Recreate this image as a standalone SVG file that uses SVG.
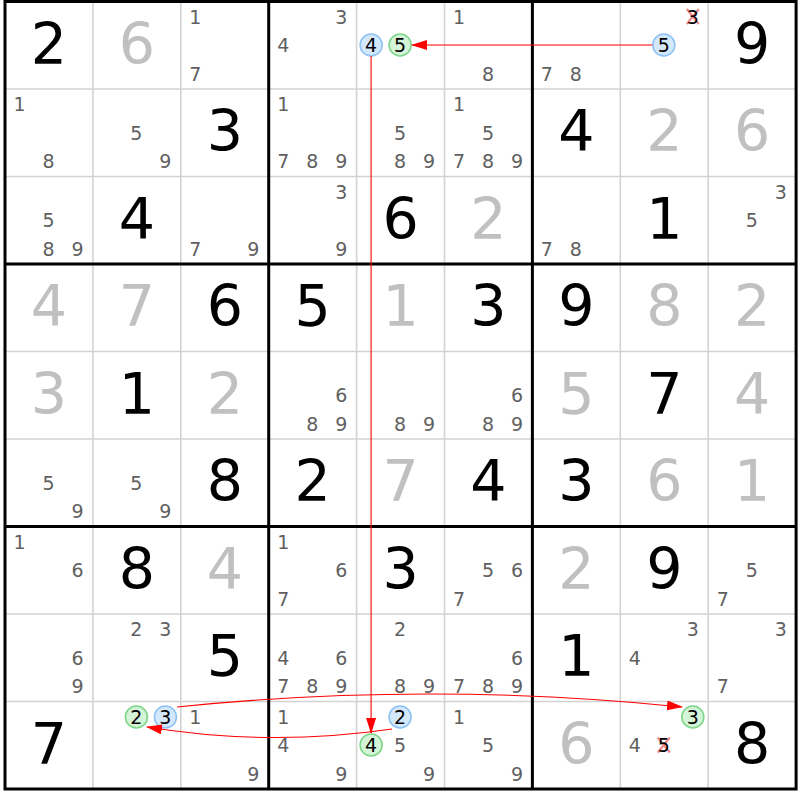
<svg xmlns="http://www.w3.org/2000/svg" width="800" height="800" viewBox="0 0 800 800">
<style>
text{font-family:"DejaVu Sans","Liberation Sans",sans-serif}
.g{font-size:57px;fill:#000;text-anchor:middle}
.s{font-size:57px;fill:#c0c0c0;text-anchor:middle}
.c{font-size:19px;fill:#606060;text-anchor:middle}
.h{font-size:19px;fill:#000;text-anchor:middle}
.cb{fill:#d4e8fc;stroke:#8ec2f5;stroke-width:1.6}
.cg{fill:#d4f4d8;stroke:#7fd58a;stroke-width:1.6}
.x{stroke:#f08a8a;stroke-width:2.2;fill:none}
.thin{stroke:#d3d3d3;stroke-width:1.6}
.thick{stroke:#000;stroke-width:3}
.link{stroke:#ff0000;stroke-width:1.1;fill:none}
</style>
<defs>
<marker id="ah" markerUnits="userSpaceOnUse" markerWidth="16" markerHeight="10" refX="15" refY="5" orient="auto">
<path d="M0,0 L16,5 L0,10 z" fill="#ff0000"/>
</marker>
</defs>
<rect x="0" y="0" width="800" height="800" fill="#fff"/>
<g id="grid">
<g class="thin">
<line x1="92.9" y1="1.5" x2="92.9" y2="789"/><line x1="180.8" y1="1.5" x2="180.8" y2="789"/>
<line x1="356.6" y1="1.5" x2="356.6" y2="789"/><line x1="444.5" y1="1.5" x2="444.5" y2="789"/>
<line x1="620.3" y1="1.5" x2="620.3" y2="789"/><line x1="708.2" y1="1.5" x2="708.2" y2="789"/>
<line x1="5" y1="89" x2="796.1" y2="89"/><line x1="5" y1="176.5" x2="796.1" y2="176.5"/>
<line x1="5" y1="351.5" x2="796.1" y2="351.5"/><line x1="5" y1="439" x2="796.1" y2="439"/>
<line x1="5" y1="614" x2="796.1" y2="614"/><line x1="5" y1="701.5" x2="796.1" y2="701.5"/>
</g>
<g class="thick">
<line x1="268.7" y1="1.5" x2="268.7" y2="789"/><line x1="532.4" y1="1.5" x2="532.4" y2="789"/>
<line x1="5" y1="264" x2="796.1" y2="264"/><line x1="5" y1="526.5" x2="796.1" y2="526.5"/>
<rect x="5" y="1.5" width="791.1" height="787.5" fill="none"/>
</g>
</g>
<g id="r1c1" transform="translate(5,1.5)"><text class="g" x="44" y="62">2</text></g>
<g id="r1c2" transform="translate(92.9,1.5)"><text class="s" x="44" y="62">6</text></g>
<g id="r1c3" transform="translate(180.8,1.5)"><text class="c" x="14.5" y="22">1</text><text class="c" x="14.5" y="79">7</text></g>
<g id="r1c4" transform="translate(268.7,1.5)"><text class="c" x="72.5" y="22">3</text><text class="c" x="14.5" y="50.5">4</text></g>
<g id="r1c5" transform="translate(356.6,1.5)"><circle class="cb" cx="14.5" cy="43.5" r="11"/><text class="h" x="14.5" y="50.5">4</text><circle class="cg" cx="43.5" cy="43.5" r="11"/><text class="h" x="43.5" y="50.5">5</text></g>
<g id="r1c6" transform="translate(444.5,1.5)"><text class="c" x="14.5" y="22">1</text><text class="c" x="43.5" y="79">8</text></g>
<g id="r1c7" transform="translate(532.4,1.5)"><text class="c" x="14.5" y="79">7</text><text class="c" x="43.5" y="79">8</text></g>
<g id="r1c8" transform="translate(620.3,1.5)"><path class="x" d="M66.5,7.5 L78.5,22.5 M78.5,7.5 L66.5,22.5"/><text class="h" x="72.5" y="22">3</text><circle class="cb" cx="43.5" cy="43.5" r="11"/><text class="h" x="43.5" y="50.5">5</text></g>
<g id="r1c9" transform="translate(708.2,1.5)"><text class="g" x="44" y="62">9</text></g>
<g id="r2c1" transform="translate(5,89)"><text class="c" x="14.5" y="22">1</text><text class="c" x="43.5" y="79">8</text></g>
<g id="r2c2" transform="translate(92.9,89)"><text class="c" x="43.5" y="50.5">5</text><text class="c" x="72.5" y="79">9</text></g>
<g id="r2c3" transform="translate(180.8,89)"><text class="g" x="44" y="62">3</text></g>
<g id="r2c4" transform="translate(268.7,89)"><text class="c" x="14.5" y="22">1</text><text class="c" x="14.5" y="79">7</text><text class="c" x="43.5" y="79">8</text><text class="c" x="72.5" y="79">9</text></g>
<g id="r2c5" transform="translate(356.6,89)"><text class="c" x="43.5" y="50.5">5</text><text class="c" x="43.5" y="79">8</text><text class="c" x="72.5" y="79">9</text></g>
<g id="r2c6" transform="translate(444.5,89)"><text class="c" x="14.5" y="22">1</text><text class="c" x="43.5" y="50.5">5</text><text class="c" x="14.5" y="79">7</text><text class="c" x="43.5" y="79">8</text><text class="c" x="72.5" y="79">9</text></g>
<g id="r2c7" transform="translate(532.4,89)"><text class="g" x="44" y="62">4</text></g>
<g id="r2c8" transform="translate(620.3,89)"><text class="s" x="44" y="62">2</text></g>
<g id="r2c9" transform="translate(708.2,89)"><text class="s" x="44" y="62">6</text></g>
<g id="r3c1" transform="translate(5,176.5)"><text class="c" x="43.5" y="50.5">5</text><text class="c" x="43.5" y="79">8</text><text class="c" x="72.5" y="79">9</text></g>
<g id="r3c2" transform="translate(92.9,176.5)"><text class="g" x="44" y="62">4</text></g>
<g id="r3c3" transform="translate(180.8,176.5)"><text class="c" x="14.5" y="79">7</text><text class="c" x="72.5" y="79">9</text></g>
<g id="r3c4" transform="translate(268.7,176.5)"><text class="c" x="72.5" y="22">3</text><text class="c" x="72.5" y="79">9</text></g>
<g id="r3c5" transform="translate(356.6,176.5)"><text class="g" x="44" y="62">6</text></g>
<g id="r3c6" transform="translate(444.5,176.5)"><text class="s" x="44" y="62">2</text></g>
<g id="r3c7" transform="translate(532.4,176.5)"><text class="c" x="14.5" y="79">7</text><text class="c" x="43.5" y="79">8</text></g>
<g id="r3c8" transform="translate(620.3,176.5)"><text class="g" x="44" y="62">1</text></g>
<g id="r3c9" transform="translate(708.2,176.5)"><text class="c" x="72.5" y="22">3</text><text class="c" x="43.5" y="50.5">5</text></g>
<g id="r4c1" transform="translate(5,264)"><text class="s" x="44" y="62">4</text></g>
<g id="r4c2" transform="translate(92.9,264)"><text class="s" x="44" y="62">7</text></g>
<g id="r4c3" transform="translate(180.8,264)"><text class="g" x="44" y="62">6</text></g>
<g id="r4c4" transform="translate(268.7,264)"><text class="g" x="44" y="62">5</text></g>
<g id="r4c5" transform="translate(356.6,264)"><text class="s" x="44" y="62">1</text></g>
<g id="r4c6" transform="translate(444.5,264)"><text class="g" x="44" y="62">3</text></g>
<g id="r4c7" transform="translate(532.4,264)"><text class="g" x="44" y="62">9</text></g>
<g id="r4c8" transform="translate(620.3,264)"><text class="s" x="44" y="62">8</text></g>
<g id="r4c9" transform="translate(708.2,264)"><text class="s" x="44" y="62">2</text></g>
<g id="r5c1" transform="translate(5,351.5)"><text class="s" x="44" y="62">3</text></g>
<g id="r5c2" transform="translate(92.9,351.5)"><text class="g" x="44" y="62">1</text></g>
<g id="r5c3" transform="translate(180.8,351.5)"><text class="s" x="44" y="62">2</text></g>
<g id="r5c4" transform="translate(268.7,351.5)"><text class="c" x="72.5" y="50.5">6</text><text class="c" x="43.5" y="79">8</text><text class="c" x="72.5" y="79">9</text></g>
<g id="r5c5" transform="translate(356.6,351.5)"><text class="c" x="43.5" y="79">8</text><text class="c" x="72.5" y="79">9</text></g>
<g id="r5c6" transform="translate(444.5,351.5)"><text class="c" x="72.5" y="50.5">6</text><text class="c" x="43.5" y="79">8</text><text class="c" x="72.5" y="79">9</text></g>
<g id="r5c7" transform="translate(532.4,351.5)"><text class="s" x="44" y="62">5</text></g>
<g id="r5c8" transform="translate(620.3,351.5)"><text class="g" x="44" y="62">7</text></g>
<g id="r5c9" transform="translate(708.2,351.5)"><text class="s" x="44" y="62">4</text></g>
<g id="r6c1" transform="translate(5,439)"><text class="c" x="43.5" y="50.5">5</text><text class="c" x="72.5" y="79">9</text></g>
<g id="r6c2" transform="translate(92.9,439)"><text class="c" x="43.5" y="50.5">5</text><text class="c" x="72.5" y="79">9</text></g>
<g id="r6c3" transform="translate(180.8,439)"><text class="g" x="44" y="62">8</text></g>
<g id="r6c4" transform="translate(268.7,439)"><text class="g" x="44" y="62">2</text></g>
<g id="r6c5" transform="translate(356.6,439)"><text class="s" x="44" y="62">7</text></g>
<g id="r6c6" transform="translate(444.5,439)"><text class="g" x="44" y="62">4</text></g>
<g id="r6c7" transform="translate(532.4,439)"><text class="g" x="44" y="62">3</text></g>
<g id="r6c8" transform="translate(620.3,439)"><text class="s" x="44" y="62">6</text></g>
<g id="r6c9" transform="translate(708.2,439)"><text class="s" x="44" y="62">1</text></g>
<g id="r7c1" transform="translate(5,526.5)"><text class="c" x="14.5" y="22">1</text><text class="c" x="72.5" y="50.5">6</text></g>
<g id="r7c2" transform="translate(92.9,526.5)"><text class="g" x="44" y="62">8</text></g>
<g id="r7c3" transform="translate(180.8,526.5)"><text class="s" x="44" y="62">4</text></g>
<g id="r7c4" transform="translate(268.7,526.5)"><text class="c" x="14.5" y="22">1</text><text class="c" x="72.5" y="50.5">6</text><text class="c" x="14.5" y="79">7</text></g>
<g id="r7c5" transform="translate(356.6,526.5)"><text class="g" x="44" y="62">3</text></g>
<g id="r7c6" transform="translate(444.5,526.5)"><text class="c" x="43.5" y="50.5">5</text><text class="c" x="72.5" y="50.5">6</text><text class="c" x="14.5" y="79">7</text></g>
<g id="r7c7" transform="translate(532.4,526.5)"><text class="s" x="44" y="62">2</text></g>
<g id="r7c8" transform="translate(620.3,526.5)"><text class="g" x="44" y="62">9</text></g>
<g id="r7c9" transform="translate(708.2,526.5)"><text class="c" x="43.5" y="50.5">5</text><text class="c" x="14.5" y="79">7</text></g>
<g id="r8c1" transform="translate(5,614)"><text class="c" x="72.5" y="50.5">6</text><text class="c" x="72.5" y="79">9</text></g>
<g id="r8c2" transform="translate(92.9,614)"><text class="c" x="43.5" y="22">2</text><text class="c" x="72.5" y="22">3</text></g>
<g id="r8c3" transform="translate(180.8,614)"><text class="g" x="44" y="62">5</text></g>
<g id="r8c4" transform="translate(268.7,614)"><text class="c" x="14.5" y="50.5">4</text><text class="c" x="72.5" y="50.5">6</text><text class="c" x="14.5" y="79">7</text><text class="c" x="43.5" y="79">8</text><text class="c" x="72.5" y="79">9</text></g>
<g id="r8c5" transform="translate(356.6,614)"><text class="c" x="43.5" y="22">2</text><text class="c" x="43.5" y="79">8</text><text class="c" x="72.5" y="79">9</text></g>
<g id="r8c6" transform="translate(444.5,614)"><text class="c" x="72.5" y="50.5">6</text><text class="c" x="14.5" y="79">7</text><text class="c" x="43.5" y="79">8</text><text class="c" x="72.5" y="79">9</text></g>
<g id="r8c7" transform="translate(532.4,614)"><text class="g" x="44" y="62">1</text></g>
<g id="r8c8" transform="translate(620.3,614)"><text class="c" x="72.5" y="22">3</text><text class="c" x="14.5" y="50.5">4</text></g>
<g id="r8c9" transform="translate(708.2,614)"><text class="c" x="72.5" y="22">3</text><text class="c" x="14.5" y="79">7</text></g>
<g id="r9c1" transform="translate(5,701.5)"><text class="g" x="44" y="62">7</text></g>
<g id="r9c2" transform="translate(92.9,701.5)"><circle class="cg" cx="43.5" cy="15.5" r="11"/><text class="h" x="43.5" y="22">2</text><circle class="cb" cx="72.5" cy="15.5" r="11"/><text class="h" x="72.5" y="22">3</text></g>
<g id="r9c3" transform="translate(180.8,701.5)"><text class="c" x="14.5" y="22">1</text><text class="c" x="72.5" y="79">9</text></g>
<g id="r9c4" transform="translate(268.7,701.5)"><text class="c" x="14.5" y="22">1</text><text class="c" x="14.5" y="50.5">4</text><text class="c" x="72.5" y="79">9</text></g>
<g id="r9c5" transform="translate(356.6,701.5)"><circle class="cb" cx="43.5" cy="15.5" r="11"/><text class="h" x="43.5" y="22">2</text><circle class="cg" cx="14.5" cy="43.5" r="11"/><text class="h" x="14.5" y="50.5">4</text><text class="c" x="43.5" y="50.5">5</text><text class="c" x="72.5" y="79">9</text></g>
<g id="r9c6" transform="translate(444.5,701.5)"><text class="c" x="14.5" y="22">1</text><text class="c" x="43.5" y="50.5">5</text><text class="c" x="72.5" y="79">9</text></g>
<g id="r9c7" transform="translate(532.4,701.5)"><text class="s" x="44" y="62">6</text></g>
<g id="r9c8" transform="translate(620.3,701.5)"><circle class="cg" cx="72.5" cy="15.5" r="11"/><text class="h" x="72.5" y="22">3</text><text class="c" x="14.5" y="50.5">4</text><path class="x" d="M37.5,36 L49.5,51 M49.5,36 L37.5,51"/><text class="h" x="43.5" y="50.5">5</text></g>
<g id="r9c9" transform="translate(708.2,701.5)"><text class="g" x="44" y="62">8</text></g>
<g id="connectors">
<line class="link" x1="652.5" y1="45" x2="412" y2="45" marker-end="url(#ah)"/>
<line class="link" x1="371.1" y1="56" x2="371.1" y2="733" marker-end="url(#ah)"/>
<path class="link" d="M177,707 Q429.5,681 682,707" marker-end="url(#ah)"/>
<path class="link" d="M392,729 Q269.5,747 147,727" marker-end="url(#ah)"/>
</g>
</svg>
